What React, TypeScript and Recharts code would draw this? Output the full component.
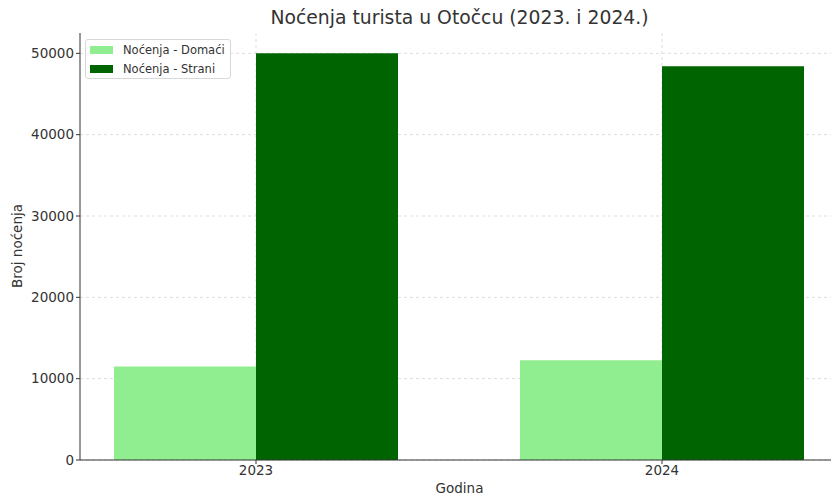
import { BarChart, Bar, XAxis, YAxis, CartesianGrid } from 'recharts';

const years = ['2023', '2024'];
const domaci = [11500, 12250];
const strani = [50000, 48400];
const yTicks = [0, 10000, 20000, 30000, 40000, 50000];

const data = years.map((godina, i) => ({
    godina,
    domaci: domaci[i],
    strani: strani[i],
}));

const FONT = '"DejaVu Sans", sans-serif';
const TEXT = '#333333';

export default function App() {
    return (
        <div
            style={{
                position: 'absolute',
                left: 0,
                top: 0,
                width: 831,
                height: 497,
                overflow: 'hidden',
                background: '#fff',
                fontFamily: FONT,
            }}
        >
            <BarChart
                width={860}
                height={497}
                data={data}
                margin={{ top: 33, right: 21, left: 0, bottom: 0 }}
                barGap={0}
                barCategoryGap={61}
            >
                <CartesianGrid strokeDasharray="3 3" stroke="#d4d4d4" strokeWidth={0.8} syncWithTicks />
                <XAxis
                    dataKey="godina"
                    height={37}
                    padding={{ left: -27, right: -26 }}
                    stroke={TEXT}
                    tickSize={4}
                    tickMargin={1}
                    tick={{ fill: TEXT, fontSize: 13.5, fontFamily: FONT }}
                />
                <YAxis
                    width={80}
                    domain={[0, 52500]}
                    ticks={yTicks}
                    stroke={TEXT}
                    tickSize={4}
                    tickMargin={2}
                    tick={{ fill: TEXT, fontSize: 13.5, fontFamily: FONT }}
                />
                <Bar dataKey="domaci" name="Noćenja - Domaći" fill="#90EE90" isAnimationActive={false} />
                <Bar dataKey="strani" name="Noćenja - Strani" fill="#006400" isAnimationActive={false} />
            </BarChart>

            <div
                style={{
                    position: 'absolute',
                    left: 0,
                    top: 7,
                    width: 919,
                    textAlign: 'center',
                    fontSize: 18.8,
                    color: TEXT,
                }}
            >
                Noćenja turista u Otočcu (2023. i 2024.)
            </div>
            <div
                style={{
                    position: 'absolute',
                    left: 80,
                    top: 480,
                    width: 759,
                    textAlign: 'center',
                    fontSize: 13.5,
                    color: TEXT,
                }}
            >
                Godina
            </div>
            <div
                style={{
                    position: 'absolute',
                    left: 17,
                    top: 246,
                    transform: 'translate(-50%, -50%) rotate(-90deg)',
                    whiteSpace: 'nowrap',
                    fontSize: 13.5,
                    color: TEXT,
                }}
            >
                Broj noćenja
            </div>

            <div
                style={{
                    position: 'absolute',
                    left: 85,
                    top: 39,
                    width: 146,
                    height: 40,
                    border: '1px solid #d8d8d8',
                    borderRadius: 3,
                    background: 'rgba(255,255,255,0.8)',
                    boxSizing: 'border-box',
                    fontSize: 11.5,
                    color: TEXT,
                }}
            >
                {[
                    { label: 'Noćenja - Domaći', color: '#90EE90', top: 2 },
                    { label: 'Noćenja - Strani', color: '#006400', top: 21 },
                ].map((item) => (
                    <div
                        key={item.label}
                        style={{
                            position: 'absolute',
                            left: 4,
                            top: item.top,
                            height: 16,
                            display: 'flex',
                            alignItems: 'center',
                            whiteSpace: 'nowrap',
                        }}
                    >
                        <span style={{ width: 23, height: 8, background: item.color, marginRight: 10 }} />
                        {item.label}
                    </div>
                ))}
            </div>
        </div>
    );
}
